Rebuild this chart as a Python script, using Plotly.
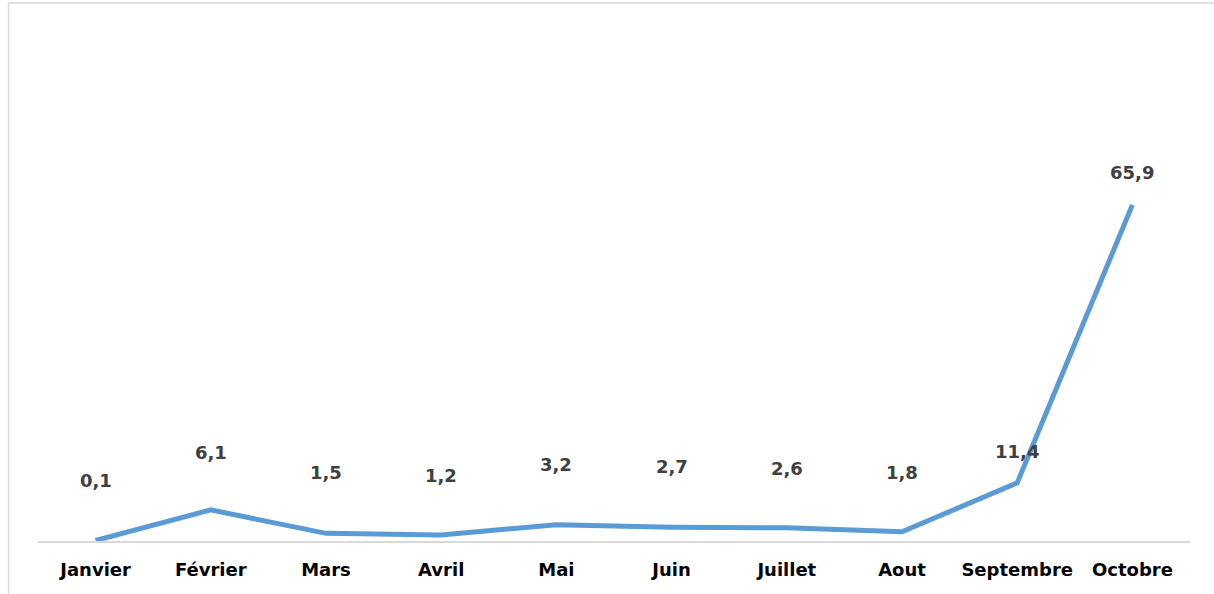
import plotly.graph_objects as go

mois = ["Janvier", "Février", "Mars", "Avril", "Mai", "Juin",
        "Juillet", "Aout", "Septembre", "Octobre"]
valeurs = [0.1, 6.1, 1.5, 1.2, 3.2, 2.7, 2.6, 1.8, 11.4, 65.9]

# décalage vertical des étiquettes (pixels), comme placé dans l'original
decalage_etiquettes = [60, 57, 61, 59, 60, 61, 59, 59, 31, 32]

POLICE = "DejaVu Sans"

fig = go.Figure()
fig.add_trace(go.Scatter(
    x=mois,
    y=valeurs,
    mode="lines",
    line=dict(color="#5B9BD5", width=5),
    hoverinfo="x+y",
    showlegend=False,
    cliponaxis=False,
))

for m, v, d in zip(mois, valeurs, decalage_etiquettes):
    fig.add_annotation(
        x=m, y=v, yshift=d,
        text=f"{v:.1f}".replace(".", ","),
        showarrow=False,
        font=dict(family=POLICE, size=18, color="#404040", weight="bold"),
    )

# cadre du graphique (bord gauche et haut visibles)
fig.add_shape(type="line", xref="paper", yref="paper",
              x0=-0.0256, x1=-0.0256, y0=-0.2, y1=1.0549,
              line=dict(color="#d9d9d9", width=1.5))
fig.add_shape(type="line", xref="paper", yref="paper",
              x0=-0.0256, x1=1.1, y0=1.0549, y1=1.0549,
              line=dict(color="#d9d9d9", width=1.5))

fig.update_xaxes(
    showgrid=False,
    showline=True,
    linecolor="#d9d9d9",
    linewidth=1.5,
    ticks="",
    range=[-0.5, 9.5],
    tickfont=dict(family=POLICE, size=18, color="#000000", weight="bold"),
    ticklabelstandoff=12,
)
fig.update_yaxes(
    range=[0, 100],
    showgrid=False,
    zeroline=False,
    showticklabels=False,
    showline=False,
)

fig.update_layout(
    width=1214,
    height=594,
    plot_bgcolor="white",
    paper_bgcolor="white",
    margin=dict(l=38, r=24, t=31, b=52.5),
)

fig.write_html("out.html",
               config={"displayModeBar": False},
               post_script="document.body.style.margin='0';document.body.style.overflow='hidden';")
